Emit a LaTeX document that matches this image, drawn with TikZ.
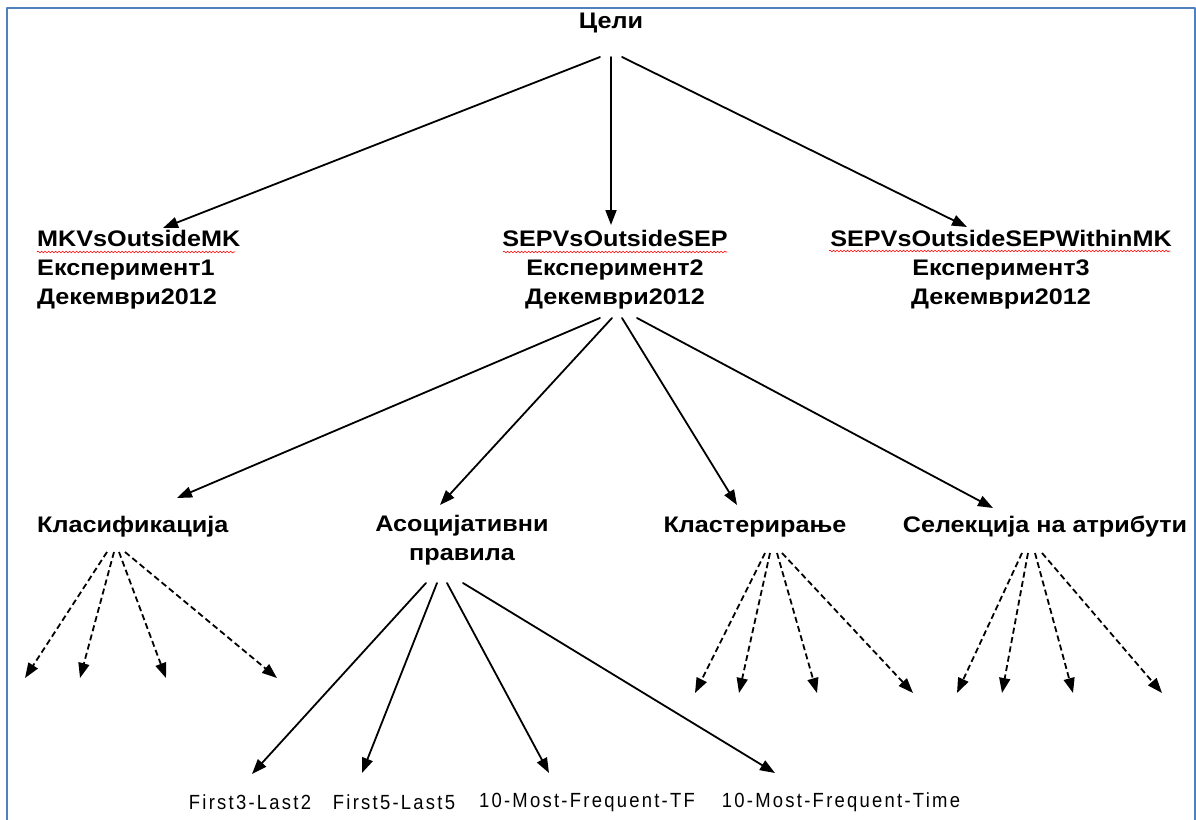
\documentclass[tikz,border=0pt]{standalone}
\usepackage{fontspec}
\setmainfont{Liberation Sans}[FakeStretch=1.12]
\newfontfamily\narrowfont{Liberation Sans}[FakeStretch=0.9, LetterSpace=11]
\usetikzlibrary{arrows.meta,calc,decorations.pathmorphing}
\definecolor{framecol}{RGB}{79,129,189}

\begin{document}
\begin{tikzpicture}[x=1pt, y=-1pt, line join=round, line cap=round,
  >={Triangle[length=15pt,width=11pt]},
  box/.style={font=\fontsize{22.5}{29}\selectfont\bfseries, inner sep=0pt, align=center},
  leaf/.style={font=\narrowfont\fontsize{20.5}{24}\selectfont, inner sep=0pt},
  link/.style={->, line width=1.8pt},
  sub/.style={->, line width=1.8pt, dash pattern=on 6pt off 3.5pt, line cap=butt},
  squiggle/.style={red, line width=0.6pt, decorate, decoration={snake, amplitude=0.9pt, segment length=3.5pt}}]
\useasboundingbox (0,0) rectangle (1196,819);
\draw[framecol, line width=2.5pt] (7,830) -- (7,8) -- (1195,8) -- (1195,830);

\node[box] (goals) at (611,23) {Цели};
\node[box, align=left, anchor=west] (exp1) at (37,270) {MKVsOutsideMK\\Експеримент1\\Декември2012};
\node[box] (exp2) at (615,270) {SEPVsOutsideSEP\\Експеримент2\\Декември2012};
\node[box] (exp3) at (1001,270) {SEPVsOutsideSEPWithinMK\\Експеримент3\\Декември2012};
\draw[squiggle] (37,252) -- (235,252);
\draw[squiggle] (503,252) -- (727,252);
\draw[squiggle] (829,251) -- (1170,251);

\node[box, anchor=west] (cls) at (37,527) {Класификација};
\node[box] (assoc) at (462,540) {Асоцијативни\\правила};
\node[box] (clust) at (755,527) {Кластерирање};
\node[box] (sel) at (1045,527) {Селекција на атрибути};

\node[leaf] (f32) at (250,802) {First3-Last2};
\node[leaf] (f55) at (394,802) {First5-Last5};
\node[leaf] (mftf) at (587,802) {10-Most-Frequent-TF};
\node[leaf] (mftime) at (841,802) {10-Most-Frequent-Time};

\draw[link] ($(goals)+(-11,34)$) -- ($(exp1.west)+(126,-42)$);
\draw[link] ($(goals)+(0,34)$) -- ($(exp2)+(-4,-45)$);
\draw[link] ($(goals)+(11,34)$) -- ($(exp3)+(-34,-43)$);

\draw[link] ($(exp2)+(-15,48)$) -- ($(cls.west)+(140,-29)$);
\draw[link] ($(exp2)+(-3,48)$) -- ($(assoc)+(-22,-35)$);
\draw[link] ($(exp2)+(7,48)$) -- ($(clust)+(-18,-22)$);
\draw[link] ($(exp2)+(22,48)$) -- ($(sel)+(-52,-19)$);

\draw[link] ($(assoc)+(-36,43)$) -- ($(f32)+(2,-28)$);
\draw[link] ($(assoc)+(-25,43)$) -- ($(f55)+(-32,-29)$);
\draw[link] ($(assoc)+(-15,43)$) -- ($(mftf)+(-38,-29)$);
\draw[link] ($(assoc)+(1,43)$) -- ($(mftime)+(-66,-29)$);

\foreach \dx/\ex [count=\i] in {70/25, 77/80, 82/166, 88/277} {
  \coordinate (cl\i) at (\ex,678);
  \draw[sub] ($(cls.west)+(\dx,25)$) -- (cl\i);
}
\foreach \dx/\ex [count=\i] in {10/695, 15/739, 22/817, 27/913} {
  \coordinate (cu\i) at (\ex,693);
  \draw[sub] ($(clust)+(\dx,26)$) -- (cu\i);
}
\foreach \dx/\ex [count=\i] in {-23/957, -17/1002, -10/1073, -3/1162} {
  \coordinate (se\i) at (\ex,693);
  \draw[sub] ($(sel)+(\dx,26)$) -- (se\i);
}
\end{tikzpicture}
\end{document}
